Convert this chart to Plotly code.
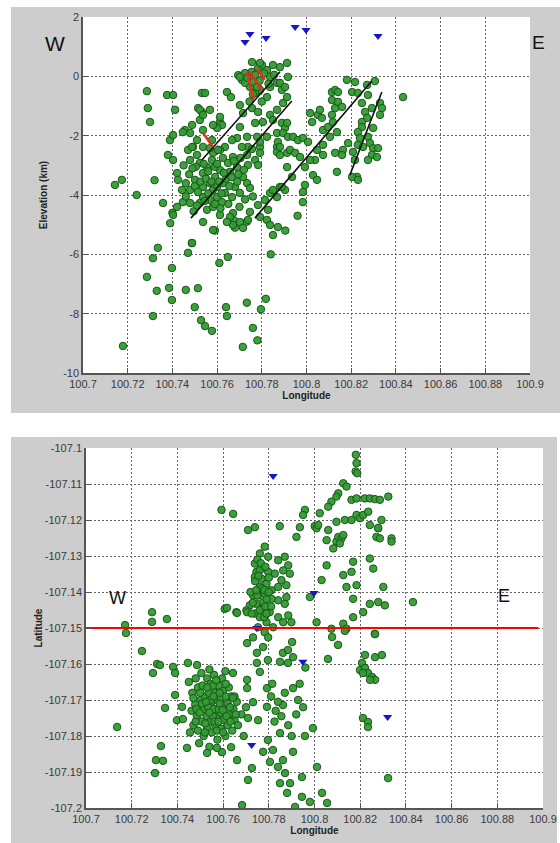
import plotly.graph_objects as go

# ---------------- tick labels ----------------
lon_ticks = [100.7, 100.72, 100.74, 100.76, 100.78, 100.8, 100.82, 100.84, 100.86, 100.88, 100.9]
lon_tick_text = ["100.7", "100.72", "100.74", "100.76", "100.78", "100.8", "100.82", "100.84", "100.86", "100.88", "100.9"]
elev_ticks = [-10, -8, -6, -4, -2, 0, 2]
elev_tick_text = ["-10", "-8", "-6", "-4", "-2", "0", "2"]
lat_ticks = [-107.2, -107.19, -107.18, -107.17, -107.16, -107.15, -107.14, -107.13, -107.12, -107.11, -107.1]
lat_tick_text = ["-107.2", "-107.19", "-107.18", "-107.17", "-107.16", "-107.15", "-107.14", "-107.13", "-107.12", "-107.11", "-107.1"]

# ---------------- stations (blue triangles) ----------------
station_lon = [100.7725, 100.7747, 100.7819, 100.7949, 100.7998, 100.8320]
station_elev = [1.16, 1.43, 1.29, 1.66, 1.56, 1.36]
station_lat = [-107.1825, -107.1500, -107.1078, -107.1594, -107.1403, -107.1747]

# ---------------- cross-section events (lon, elevation km) ----------------
sec_outliers = [
    (100.7179, -9.09), (100.7313, -6.13), (100.7286, -6.76), (100.7330, -7.23), (100.7313, -8.08),
    (100.7335, -5.78), (100.7398, -6.46), (100.7385, -7.13), (100.7398, -7.54), (100.7460, -7.20),
    (100.7514, -7.14), (100.7487, -5.62), (100.7470, -5.95), (100.7500, -7.78), (100.7528, -8.22),
    (100.7546, -8.42), (100.7577, -8.58), (100.7640, -7.78), (100.7644, -8.08), (100.7610, -6.29),
    (100.7648, -6.09), (100.7733, -7.63), (100.7715, -9.12), (100.7760, -8.48), (100.7780, -8.90),
    (100.7818, -7.50), (100.7796, -7.85), (100.7840, -6.00), (100.7286, -0.50), (100.7290, -1.07),
    (100.7300, -1.54), (100.7143, -3.66), (100.7174, -3.49), (100.7240, -4.00), (100.7320, -3.50),
    (100.8432, -0.70), (100.7680, -5.10), (100.7675, -4.85), (100.7733, -4.90), (100.7590, -5.20),
    (100.7390, -4.95), (100.7400, -4.60), (100.7358, -4.27), (100.7488, -5.62),
]
sec_shallow_cluster = [
    (100.7532, -0.56), (100.7546, -0.56), (100.7644, -0.53), (100.7662, -0.70), (100.7515, -1.07),
    (100.7532, -1.20), (100.7613, -1.54), (100.7622, -1.64), (100.7600, -1.74), (100.7456, -1.81),
    (100.7479, -1.91), (100.7537, -1.81), (100.7510, -2.15), (100.7492, -2.38), (100.7537, -2.38),
    (100.7577, -2.15), (100.7702, -1.71), (100.7734, -2.04), (100.7689, -2.08), (100.7702, -0.97),
    (100.7716, -1.24), (100.7756, -1.07), (100.7770, -1.57), (100.7783, -1.20), (100.7805, -1.54),
    (100.7837, -1.30), (100.7868, -1.13), (100.7895, -0.90), (100.7913, -0.70), (100.7890, -0.46),
    (100.7868, -0.22), (100.7837, -0.36), (100.7823, -0.70), (100.7792, -0.46), (100.7770, -0.56),
    (100.7711, -0.12), (100.7694, 0.04), (100.7725, 0.11), (100.7747, -0.36), (100.7761, -0.19),
    (100.7783, 0.28), (100.7801, 0.38), (100.7823, 0.21), (100.7837, -0.02), (100.7850, 0.38),
    (100.7881, 0.31), (100.7913, 0.45), (100.7917, -0.02), (100.7850, -1.47), (100.7890, -1.57),
    (100.7868, -1.91), (100.7904, -1.74), (100.7823, -2.04), (100.7779, -2.04), (100.7738, -2.38),
    (100.7792, -2.38), (100.7868, -2.38), (100.7667, -2.15), (100.7635, -2.38), (100.7613, -2.48),
    (100.7756, 0.48), (100.7792, 0.45), (100.7702, -0.02), (100.7725, -0.22), (100.7779, -0.36),
    (100.7376, -0.63), (100.7403, -0.63), (100.7412, -1.13), (100.7523, -1.13), (100.7568, -1.13),
    (100.7389, -2.15), (100.7403, -1.98), (100.7447, -1.88), (100.7470, -2.48), (100.7380, -2.65),
    (100.7403, -2.82), (100.7488, -1.64), (100.7523, -1.47), (100.7537, -1.30), (100.7582, -1.64),
    (100.7613, -1.37), (100.7881, -0.22), (100.7904, -0.36),
    (100.7735, -0.05), (100.7755, 0.15), (100.7770, 0.05), (100.7790, -0.15), (100.7810, 0.10),
    (100.7830, -0.25), (100.7855, 0.05), (100.7760, -0.60), (100.7800, -0.85), (100.7745, -0.85),
]
sec_main_band = [
    (100.7488, -2.38), (100.7510, -2.65), (100.7523, -2.92), (100.7479, -2.82), (100.7421, -3.26),
    (100.7425, -3.49), (100.7501, -3.49), (100.7537, -3.26), (100.7555, -3.06), (100.7577, -2.82),
    (100.7582, -2.58), (100.7568, -2.42), (100.7604, -2.48), (100.7626, -2.75), (100.7649, -2.92),
    (100.7671, -2.72), (100.7689, -3.06), (100.7658, -3.22), (100.7613, -3.16), (100.7591, -3.39),
    (100.7568, -3.60), (100.7537, -3.73), (100.7600, -3.73), (100.7626, -3.60), (100.7635, -3.93),
    (100.7600, -4.07), (100.7568, -4.17), (100.7537, -4.07), (100.7523, -4.27), (100.7479, -4.27),
    (100.7447, -4.24), (100.7443, -3.83), (100.7479, -3.83), (100.7555, -4.50), (100.7582, -4.40),
    (100.7622, -4.24), (100.7667, -4.07), (100.7680, -3.73), (100.7702, -3.93), (100.7734, -3.60),
    (100.7747, -3.76), (100.7716, -3.39), (100.7738, -2.99), (100.7770, -2.82), (100.7792, -2.58),
    (100.7783, -2.99), (100.7756, -2.45), (100.7711, -2.38), (100.7734, -2.65), (100.7671, -4.61),
    (100.7658, -4.74), (100.7537, -4.91), (100.7582, -5.18), (100.7613, -4.67), (100.7702, -4.91),
    (100.7738, -4.84), (100.7747, -4.57), (100.7783, -4.34), (100.7814, -4.17), (100.7837, -3.93),
    (100.7850, -3.83), (100.7881, -3.73), (100.7904, -3.83), (100.7868, -4.07), (100.7828, -4.50),
    (100.7792, -4.74), (100.7823, -4.84), (100.7837, -5.01), (100.7872, -5.08), (100.7850, -5.35),
    (100.7868, -2.55), (100.7881, -2.65), (100.7913, -2.58), (100.7792, -2.21), (100.7872, -2.21),
    (100.7421, -4.40), (100.7403, -4.67), (100.7716, -5.11), (100.7671, -5.01), (100.7644, -4.91),
    (100.7560, -3.20), (100.7640, -3.45), (100.7505, -3.05), (100.7690, -3.55), (100.7580, -3.85),
    (100.7615, -4.45), (100.7495, -4.55), (100.7905, -5.20), (100.7960, -4.70), (100.7984, -4.24),
    (100.7450, -3.00), (100.7460, -3.60), (100.7475, -3.30), (100.7490, -3.10), (100.7500, -3.70),
    (100.7515, -3.90), (100.7525, -3.55), (100.7540, -2.95), (100.7550, -3.45), (100.7560, -3.95),
    (100.7575, -3.55), (100.7590, -3.05), (100.7600, -2.95), (100.7610, -3.55), (100.7620, -3.95),
    (100.7630, -3.25), (100.7655, -3.70), (100.7665, -3.40), (100.7675, -2.85), (100.7695, -3.30),
    (100.7705, -2.75), (100.7720, -3.15), (100.7460, -4.05), (100.7510, -4.35), (100.7545, -4.20),
    (100.7590, -4.30), (100.7650, -4.30), (100.7700, -4.40), (100.7725, -4.15), (100.7760, -4.05),
]
sec_east_cluster = [
    (100.7913, -1.57), (100.7895, -1.91), (100.7917, -2.04), (100.7881, -2.38), (100.7926, -2.48),
    (100.7940, -2.04), (100.7962, -2.15), (100.7984, -2.08), (100.8007, -2.21), (100.8025, -1.54),
    (100.8016, -1.24), (100.8051, -1.30), (100.8060, -1.13), (100.8069, -1.40), (100.8074, -1.81),
    (100.8096, -1.71), (100.8105, -2.04), (100.8136, -1.88), (100.8118, -1.54), (100.8114, -1.30),
    (100.8128, -1.07), (100.8114, -0.80), (100.8141, -0.86), (100.8159, -1.03), (100.8114, -0.53),
    (100.8128, -0.46), (100.8141, -0.53), (100.8181, -0.12), (100.8217, -0.19), (100.8204, -0.53),
    (100.8230, -0.56), (100.8275, -0.63), (100.8306, -0.16), (100.8271, -0.29), (100.8248, -0.90),
    (100.8262, -1.20), (100.8271, -1.40), (100.8248, -1.54), (100.8293, -1.07), (100.8329, -0.90),
    (100.8338, -1.07), (100.8329, -1.30), (100.8298, -1.74), (100.8248, -1.71), (100.8230, -1.88),
    (100.8239, -2.08), (100.8230, -2.31), (100.8253, -2.38), (100.8275, -2.04), (100.8284, -2.25),
    (100.8298, -2.42), (100.8320, -2.42), (100.8293, -2.65), (100.8275, -2.82), (100.8315, -2.72),
    (100.8208, -2.55), (100.8217, -2.82), (100.8226, -3.39), (100.8204, -3.39), (100.8230, -3.49),
    (100.8136, -3.22), (100.8163, -2.48), (100.8186, -2.25), (100.8159, -2.65), (100.8128, -2.58),
    (100.8074, -2.65), (100.8074, -2.31), (100.8047, -2.48), (100.8038, -2.82), (100.8029, -3.33),
    (100.8047, -3.49), (100.7993, -3.66), (100.7984, -3.90), (100.7935, -3.39), (100.7913, -3.06),
    (100.7949, -2.58), (100.7971, -2.72), (100.7993, -3.06), (100.8016, -2.82), (100.7890, -3.73),
]
# mapped fault traces and rupture segments (start/end lon, start/end elevation)
fault_lon = [(100.7532, 100.7881), (100.7483, 100.7934), (100.7769, 100.8292), (100.8194, 100.8337)]
fault_elev = [(-2.82, 0.15), (-4.78, -0.83), (-4.78, -0.16), (-3.33, -0.53)]
rupture_lon = [(100.7733, 100.7764), (100.7747, 100.7800), (100.7778, 100.7814), (100.7537, 100.7582)]
rupture_elev = [(0.15, -0.80), (0.15, -0.46), (0.25, -0.12), (-1.91, -2.38)]

# ---------------- map-view events (lon, lat) ----------------
map_north_cluster = [
    (100.8181, -107.1019), (100.8184, -107.1042), (100.8180, -107.1065), (100.8187, -107.1070),
    (100.8126, -107.1098), (100.8140, -107.1107), (100.8104, -107.1126), (100.8096, -107.1135),
    (100.8074, -107.1149), (100.8060, -107.1163), (100.8023, -107.1181), (100.7958, -107.1172),
    (100.7950, -107.1186), (100.7936, -107.1220), (100.7921, -107.1247), (100.8001, -107.1217),
    (100.8009, -107.1223), (100.8016, -107.1214), (100.8053, -107.1256), (100.8082, -107.1279),
    (100.8096, -107.1260), (100.8104, -107.1247), (100.8118, -107.1251), (100.8126, -107.1242),
    (100.8111, -107.1265), (100.8060, -107.1228), (100.8096, -107.1205), (100.8133, -107.1200),
    (100.8162, -107.1200), (100.8184, -107.1186), (100.8199, -107.1195), (100.8213, -107.1186),
    (100.8162, -107.1144), (100.8184, -107.1140), (100.8220, -107.1140), (100.8242, -107.1140),
    (100.8264, -107.1142), (100.8286, -107.1144), (100.8323, -107.1135), (100.8235, -107.1177),
    (100.8293, -107.1200), (100.8242, -107.1214), (100.8279, -107.1223), (100.8271, -107.1247),
    (100.8286, -107.1251), (100.8337, -107.1251), (100.8337, -107.1260), (100.8278, -107.1222),
    (100.8242, -107.1307), (100.8169, -107.1316), (100.8162, -107.1344), (100.8126, -107.1353),
    (100.8257, -107.1335), (100.8140, -107.1386), (100.8184, -107.1381), (100.8169, -107.1419),
    (100.8242, -107.1433), (100.8279, -107.1428), (100.8308, -107.1437), (100.8301, -107.1386),
    (100.8213, -107.1456), (100.8169, -107.1470), (100.8126, -107.1488), (100.8140, -107.1502),
    (100.8264, -107.1516), (100.8074, -107.1502), (100.8009, -107.1484), (100.8053, -107.1326),
    (100.8031, -107.1367), (100.7980, -107.1414), (100.8431, -107.1428), (100.8077, -107.1525),
    (100.8103, -107.1547), (100.8133, -107.1508), (100.8265, -107.1517),
]
map_central_column = [
    (100.7593, -107.1172), (100.7644, -107.1183), (100.7709, -107.1228), (100.7739, -107.1220),
    (100.7848, -107.1217), (100.7782, -107.1274), (100.7761, -107.1293), (100.7739, -107.1321),
    (100.7797, -107.1302), (100.7841, -107.1312), (100.7870, -107.1302), (100.7885, -107.1326),
    (100.7863, -107.1340), (100.7892, -107.1349), (100.7877, -107.1381), (100.7855, -107.1367),
    (100.7826, -107.1349), (100.7797, -107.1344), (100.7768, -107.1335), (100.7746, -107.1344),
    (100.7739, -107.1358), (100.7768, -107.1363), (100.7790, -107.1377), (100.7761, -107.1386),
    (100.7731, -107.1409), (100.7753, -107.1409), (100.7782, -107.1405), (100.7812, -107.1395),
    (100.7841, -107.1386), (100.7877, -107.1414), (100.7870, -107.1433), (100.7841, -107.1423),
    (100.7812, -107.1419), (100.7775, -107.1428), (100.7746, -107.1433), (100.7717, -107.1437),
    (100.7702, -107.1451), (100.7739, -107.1460), (100.7768, -107.1447), (100.7804, -107.1456),
    (100.7841, -107.1470), (100.7885, -107.1465), (100.7899, -107.1484), (100.7863, -107.1484),
    (100.7790, -107.1484), (100.7761, -107.1470), (100.7658, -107.1456), (100.7607, -107.1447),
    (100.7753, -107.1498), (100.7819, -107.1498), (100.7782, -107.1512), (100.7731, -107.1526),
    (100.7797, -107.1526), (100.7750, -107.1310), (100.7760, -107.1340), (100.7740, -107.1370),
    (100.7770, -107.1390), (100.7750, -107.1410), (100.7730, -107.1430), (100.7760, -107.1450),
    (100.7790, -107.1420), (100.7780, -107.1470), (100.7720, -107.1400), (100.7800, -107.1360),
    (100.7617, -107.1444), (100.7661, -107.1458), (100.7705, -107.1456),
    (100.7765, -107.1320), (100.7785, -107.1330), (100.7755, -107.1355), (100.7780, -107.1395),
    (100.7800, -107.1400), (100.7745, -107.1395), (100.7785, -107.1440), (100.7810, -107.1440),
    (100.7725, -107.1460), (100.7790, -107.1460),
]
map_southwest_cluster = [
    (100.7450, -107.1650), (100.7465, -107.1680), (100.7480, -107.1640), (100.7490, -107.1665),
    (100.7500, -107.1700), (100.7478, -107.1712), (100.7462, -107.1730), (100.7485, -107.1745),
    (100.7470, -107.1770), (100.7455, -107.1790), (100.7490, -107.1785), (100.7505, -107.1760),
    (100.7515, -107.1725), (100.7520, -107.1690), (100.7510, -107.1660), (100.7530, -107.1640),
    (100.7545, -107.1655), (100.7538, -107.1680), (100.7550, -107.1705), (100.7535, -107.1720),
    (100.7528, -107.1745), (100.7545, -107.1760), (100.7530, -107.1780), (100.7515, -107.1800),
    (100.7550, -107.1790), (100.7565, -107.1770), (100.7570, -107.1745), (100.7560, -107.1725),
    (100.7575, -107.1700), (100.7565, -107.1680), (100.7580, -107.1660), (100.7560, -107.1630),
    (100.7595, -107.1640), (100.7600, -107.1675), (100.7590, -107.1695), (100.7605, -107.1715),
    (100.7588, -107.1735), (100.7600, -107.1755), (100.7590, -107.1780), (100.7575, -107.1810),
    (100.7610, -107.1800), (100.7620, -107.1770), (100.7625, -107.1740), (100.7620, -107.1710),
    (100.7635, -107.1690), (100.7625, -107.1665), (100.7645, -107.1725), (100.7650, -107.1755),
    (100.7640, -107.1785), (100.7660, -107.1705), (100.7665, -107.1770), (100.7680, -107.1740),
    (100.7610, -107.1620), (100.7540, -107.1615), (100.7505, -107.1625), (100.7495, -107.1820),
    (100.7540, -107.1830), (100.7595, -107.1845), (100.7690, -107.1800), (100.7700, -107.1720),
    (100.7580, -107.1725), (100.7555, -107.1745), (100.7545, -107.1700),
    (100.7470, -107.1695), (100.7483, -107.1725), (100.7497, -107.1735), (100.7508, -107.1710),
    (100.7525, -107.1705), (100.7522, -107.1765), (100.7540, -107.1735), (100.7558, -107.1690),
    (100.7562, -107.1760), (100.7555, -107.1660), (100.7572, -107.1785), (100.7585, -107.1710),
    (100.7598, -107.1728), (100.7612, -107.1690), (100.7615, -107.1745), (100.7630, -107.1720),
    (100.7632, -107.1760), (100.7612, -107.1655), (100.7585, -107.1680), (100.7570, -107.1645),
    (100.7530, -107.1665), (100.7500, -107.1680), (100.7480, -107.1760), (100.7520, -107.1790),
    (100.7600, -107.1790), (100.7650, -107.1690), (100.7655, -107.1740), (100.7580, -107.1760),
]
map_scattered = [
    (100.7289, -107.1456), (100.7289, -107.1483), (100.7354, -107.1475), (100.7171, -107.1492),
    (100.7175, -107.1514), (100.7245, -107.1564), (100.7311, -107.1600), (100.7324, -107.1603),
    (100.7293, -107.1625), (100.7381, -107.1608), (100.7390, -107.1625), (100.7446, -107.1597),
    (100.7486, -107.1603), (100.7346, -107.1722), (100.7390, -107.1686), (100.7420, -107.1719),
    (100.7398, -107.1756), (100.7424, -107.1753), (100.7136, -107.1775), (100.7328, -107.1828),
    (100.7306, -107.1867), (100.7337, -107.1869), (100.7302, -107.1903), (100.7442, -107.1833),
    (100.7530, -107.1847), (100.7573, -107.1833), (100.7635, -107.1831), (100.7661, -107.1867),
    (100.7683, -107.1992), (100.7726, -107.1889), (100.7709, -107.1922), (100.7705, -107.1542),
    (100.7748, -107.1569), (100.7775, -107.1553), (100.7748, -107.1597), (100.7761, -107.1622),
    (100.7796, -107.1589), (100.7705, -107.1644), (100.7705, -107.1667), (100.7731, -107.1706),
    (100.7709, -107.1750), (100.7753, -107.1756), (100.7792, -107.1719), (100.7792, -107.1667),
    (100.7796, -107.1811), (100.7775, -107.1844), (100.7818, -107.1839), (100.7840, -107.1886),
    (100.7805, -107.1872), (100.7643, -107.1625), (100.7643, -107.1694), (100.8059, -107.1586),
    (100.8221, -107.1575), (100.8265, -107.1581), (100.8295, -107.1575), (100.8208, -107.1597),
    (100.8199, -107.1617), (100.8221, -107.1611), (100.8234, -107.1625), (100.8252, -107.1636),
    (100.8265, -107.1644), (100.8243, -107.1644), (100.8212, -107.1625), (100.8212, -107.1750),
    (100.8234, -107.1761), (100.8234, -107.1775), (100.8322, -107.1917), (100.7993, -107.1778),
    (100.7958, -107.1800), (100.8011, -107.1886), (100.8033, -107.1958), (100.8055, -107.1986),
    (100.7980, -107.1983), (100.7945, -107.1969), (100.7915, -107.1997), (100.7880, -107.1958),
    (100.7849, -107.1931), (100.7893, -107.1931), (100.7871, -107.1903), (100.7945, -107.1914),
    (100.7906, -107.1844), (100.7906, -107.1667), (100.7928, -107.1700), (100.7862, -107.1714),
    (100.7849, -107.1792), (100.7862, -107.1569), (100.7884, -107.1561), (100.7906, -107.1581),
    (100.7849, -107.1594), (100.7884, -107.1597), (100.7902, -107.1539), (100.7862, -107.1867),
    (100.7810, -107.1690), (100.7830, -107.1730), (100.7825, -107.1760), (100.7855, -107.1745),
    (100.7840, -107.1705), (100.7815, -107.1655), (100.7870, -107.1680), (100.7885, -107.1770),
    (100.7900, -107.1800), (100.7920, -107.1740), (100.7950, -107.1720), (100.7935, -107.1655),
    (100.7960, -107.1610),
]
profile_lat = -107.15
profile_lon = [100.7, 100.898]

# ---------------- styling ----------------
GREEN = "rgba(50,155,50,0.95)"
GREEN_EDGE = "#1b561b"
BLUE = "#1616c8"
FONT = "Liberation Sans, Arial, sans-serif"

fig = go.Figure()


def add_events(points, xa, ya):
    fig.add_trace(go.Scatter(
        x=[p[0] for p in points], y=[p[1] for p in points], mode="markers",
        marker=dict(size=7.5, color=GREEN, line=dict(color=GREEN_EDGE, width=1)),
        xaxis=xa, yaxis=ya, showlegend=False, hoverinfo="x+y"))


for grp in (sec_outliers, sec_shallow_cluster, sec_main_band, sec_east_cluster):
    add_events(grp, "x", "y")

for lons, elevs in zip(fault_lon, fault_elev):
    fig.add_trace(go.Scatter(x=list(lons), y=list(elevs), mode="lines",
                             line=dict(color="#111111", width=1.6),
                             xaxis="x", yaxis="y", showlegend=False, hoverinfo="skip"))
for lons, elevs in zip(rupture_lon, rupture_elev):
    fig.add_trace(go.Scatter(x=list(lons), y=list(elevs), mode="lines",
                             line=dict(color="#e0301e", width=2.6),
                             xaxis="x", yaxis="y", showlegend=False, hoverinfo="skip"))

fig.add_trace(go.Scatter(x=station_lon, y=station_elev, mode="markers",
                         marker=dict(symbol="triangle-down", size=8, color=BLUE),
                         xaxis="x", yaxis="y", showlegend=False))

for grp in (map_north_cluster, map_central_column, map_southwest_cluster, map_scattered):
    add_events(grp, "x2", "y2")

fig.add_trace(go.Scatter(x=station_lon, y=station_lat, mode="markers",
                         marker=dict(symbol="triangle-down", size=8, color=BLUE),
                         xaxis="x2", yaxis="y2", showlegend=False))

fig.add_trace(go.Scatter(x=profile_lon, y=[profile_lat, profile_lat], mode="lines",
                         line=dict(color="#ff0000", width=2),
                         xaxis="x2", yaxis="y2", showlegend=False, hoverinfo="skip"))

axis_common = dict(
    showgrid=True, gridcolor="#666666", gridwidth=1.2, griddash="2px,2px",
    showline=True, linecolor="#555555", linewidth=1.5, mirror=False,
    ticks="inside", ticklen=5, tickcolor="#555555", zeroline=False, automargin=False,
    tickfont=dict(family=FONT, size=11, color="#3a3a3a"), fixedrange=True,
)
title_font = dict(family=FONT, size=10, color="#222222")

W, H = 560, 843


def px_x(v):
    return v / W


def px_y(v):
    return 1 - v / H


fig.update_layout(
    width=W, height=H, margin=dict(l=0, r=0, t=0, b=0, autoexpand=False),
    paper_bgcolor="white", plot_bgcolor="white", showlegend=False,
    xaxis=dict(axis_common, domain=[px_x(83), px_x(530)], range=[100.7, 100.9],
               tickvals=lon_ticks, ticktext=lon_tick_text, anchor="y",
               title=dict(text="<b>Longitude</b>", font=title_font, standoff=1)),
    yaxis=dict(axis_common, domain=[px_y(373), px_y(17)], range=[-10, 2],
               tickvals=elev_ticks, ticktext=elev_tick_text, anchor="x",
               title=dict(text="<b>Elevation (km)</b>", font=title_font, standoff=14)),
    xaxis2=dict(axis_common, domain=[px_x(86), px_x(543)], range=[100.7, 100.9],
                tickvals=lon_ticks, ticktext=lon_tick_text, anchor="y2",
                title=dict(text="<b>Longitude</b>", font=title_font, standoff=1)),
    yaxis2=dict(axis_common, domain=[px_y(808), px_y(448)], range=[-107.2, -107.1],
                tickvals=lat_ticks, ticktext=lat_tick_text, anchor="x2",
                title=dict(text="<b>Latitude</b>", font=title_font, standoff=0)),
    shapes=[
        dict(type="rect", xref="paper", yref="paper", layer="below",
             x0=px_x(11), x1=px_x(560), y0=px_y(413), y1=px_y(7),
             fillcolor="#cdcdcd", line=dict(width=0)),
        dict(type="rect", xref="paper", yref="paper", layer="below",
             x0=px_x(11), x1=px_x(557), y0=px_y(843), y1=px_y(437),
             fillcolor="#cdcdcd", line=dict(width=0)),
        dict(type="rect", xref="paper", yref="paper", layer="below",
             x0=px_x(83), x1=px_x(530), y0=px_y(373), y1=px_y(17),
             fillcolor="white", line=dict(width=0)),
        dict(type="rect", xref="paper", yref="paper", layer="below",
             x0=px_x(86), x1=px_x(543), y0=px_y(808), y1=px_y(448),
             fillcolor="white", line=dict(width=0)),
    ],
    annotations=[
        dict(text="W", x=px_x(43), y=px_y(30), xref="paper", yref="paper", showarrow=False,
             font=dict(family=FONT, size=21, color="#111111")),
        dict(text="E", x=px_x(547), y=px_y(30), xref="paper", yref="paper", showarrow=False,
             font=dict(family=FONT, size=19, color="#111111")),
        dict(text="W", x=px_x(107), y=px_y(610), xref="paper", yref="paper", showarrow=False,
             font=dict(family=FONT, size=18, color="#111111")),
        dict(text="E", x=px_x(512), y=px_y(608), xref="paper", yref="paper", showarrow=False,
             font=dict(family=FONT, size=18, color="#111111")),
    ],
)

fig.write_html(
    "out.html",
    config=dict(displayModeBar=False),
    post_script="document.body.style.margin='0';document.body.style.overflow='hidden';",
)
